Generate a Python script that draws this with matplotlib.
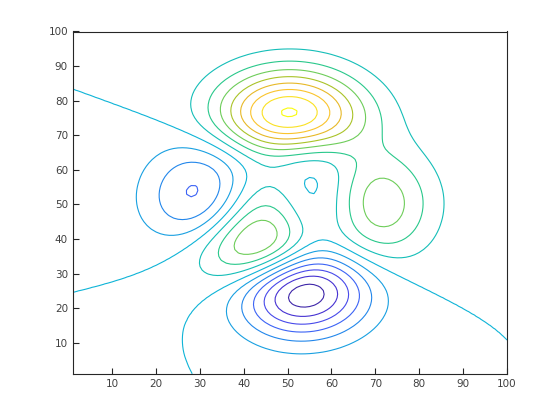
import numpy as np
import matplotlib
matplotlib.use("Agg")
import matplotlib.pyplot as plt
from matplotlib.colors import LinearSegmentedColormap

# grid size and the peaks surface (what contour(peaks(100)) draws)
n = 100
span = [-3, 3]
levels = [-6, -5, -4, -3, -2, -1, 0, 1, 2, 3, 4, 5, 6, 7, 8]
xticks = [10, 20, 30, 40, 50, 60, 70, 80, 90, 100]
yticks = [10, 20, 30, 40, 50, 60, 70, 80, 90, 100]

t = np.linspace(span[0], span[1], n)
x, y = np.meshgrid(t, t)
z = (3 * (1 - x) ** 2 * np.exp(-x ** 2 - (y + 1) ** 2)
     - 10 * (x / 5 - x ** 3 - y ** 5) * np.exp(-x ** 2 - y ** 2)
     - 1 / 3 * np.exp(-(x + 1) ** 2 - y ** 2))
idx = np.arange(1, n + 1)

# parula-like colours, one per level, as seen in the picture
cols = [(62, 38, 168), (70, 50, 210), (72, 75, 235), (60, 100, 245),
        (35, 135, 235), (25, 160, 225), (15, 180, 215), (20, 190, 185),
        (40, 200, 140), (110, 205, 90), (170, 195, 40), (230, 185, 40),
        (250, 195, 45), (250, 225, 35), (249, 251, 14)]
parula = LinearSegmentedColormap.from_list(
    "parula", [tuple(c / 255 for c in rgb) for rgb in cols])

fig = plt.figure(figsize=(5.6, 4.2), dpi=100)
ax = fig.add_axes([0.13, 0.11, 0.775, 0.815])
ax.contour(idx, idx, z, levels=levels, cmap=parula, linewidths=0.8,
           vmin=levels[0], vmax=levels[-1])

ax.set_xlim(1, 100)
ax.set_ylim(1, 100)
ax.set_xticks(xticks)
ax.set_yticks(yticks)
ax.tick_params(direction="in", length=4, width=0.8, labelsize=7.5,
               colors="#262626", labelcolor="#404040", top=False, right=False)
for s in ax.spines.values():
    s.set_color("#262626")
    s.set_linewidth(0.8)

fig.savefig("out.png", dpi=100)
